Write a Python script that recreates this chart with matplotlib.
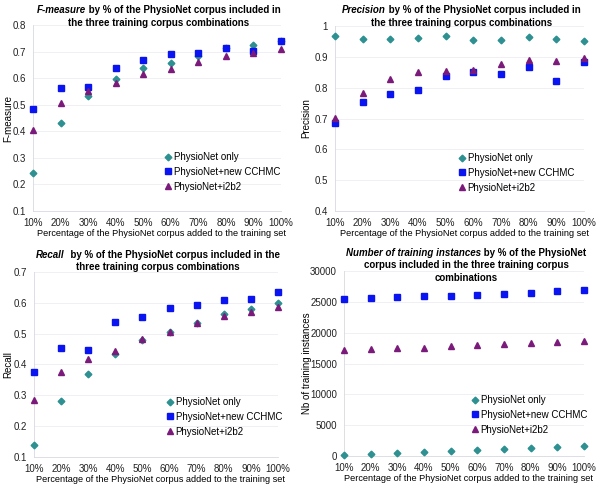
import matplotlib
matplotlib.use("Agg")
import matplotlib.pyplot as plt
import matplotlib.transforms as mtransforms
from matplotlib.ticker import FuncFormatter

pct = [10, 20, 30, 40, 50, 60, 70, 80, 90, 100]
series_names = ["PhysioNet only", "PhysioNet+new CCHMC", "PhysioNet+i2b2"]

f_only  = [0.243, 0.433, 0.533, 0.595, 0.637, 0.658, 0.685, 0.713, 0.723, 0.740]
f_cchmc = [0.484, 0.562, 0.567, 0.638, 0.667, 0.690, 0.695, 0.713, 0.703, 0.740]
f_i2b2  = [0.404, 0.505, 0.553, 0.583, 0.615, 0.636, 0.662, 0.683, 0.695, 0.710]

p_only  = [0.968, 0.957, 0.958, 0.961, 0.966, 0.954, 0.954, 0.964, 0.959, 0.951]
p_cchmc = [0.686, 0.755, 0.780, 0.792, 0.837, 0.850, 0.843, 0.866, 0.823, 0.883]
p_i2b2  = [0.703, 0.782, 0.827, 0.852, 0.853, 0.858, 0.878, 0.891, 0.888, 0.896]

r_only  = [0.138, 0.282, 0.369, 0.433, 0.478, 0.505, 0.535, 0.563, 0.580, 0.598]
r_cchmc = [0.375, 0.452, 0.447, 0.537, 0.555, 0.582, 0.592, 0.609, 0.613, 0.635]
r_i2b2  = [0.285, 0.375, 0.418, 0.445, 0.484, 0.506, 0.533, 0.557, 0.570, 0.585]

n_only  = [160, 330, 470, 640, 790, 950, 1110, 1270, 1430, 1590]
n_cchmc = [25400, 25670, 25780, 25880, 26000, 26150, 26320, 26480, 26700, 26860]
n_i2b2  = [17110, 17330, 17440, 17540, 17760, 17920, 18090, 18300, 18410, 18630]

COLORS  = ["#2E9090", "#0A14F0", "#7A1A7A"]
MARKERS = ["D", "s", "^"]
MSIZES  = [3.4, 4.2, 4.8]

FS = 7

# rect = axes in pixels (left, top, right, bottom); leg = legend top-left in pixels
panels = [
    dict(rect=(33, 25, 281, 211), it="F-measure",
         lines=[" by % of the PhysioNet corpus included in", "the three training corpus combinations"],
         title_y=10, ylabel="F-measure", ylab_x=8,
         ylim=(0.1, 0.8), yticks=[0.1, 0.2, 0.3, 0.4, 0.5, 0.6, 0.7, 0.8],
         data=[f_only, f_cchmc, f_i2b2], leg=(164, 152)),
    dict(rect=(335, 26, 584, 211), it="Precision",
         lines=[" by % of the PhysioNet corpus included in", "the three training corpus combinations"],
         title_y=10, ylabel="Precision", ylab_x=306,
         ylim=(0.4, 1.0), yticks=[0.4, 0.5, 0.6, 0.7, 0.8, 0.9, 1.0],
         data=[p_only, p_cchmc, p_i2b2], leg=(458, 153)),
    dict(rect=(34, 272, 278, 457), it="Recall",
         lines=["  by % of the PhysioNet corpus included in the", "three training corpus combinations"],
         title_y=255, ylabel="Recall", ylab_x=8,
         ylim=(0.1, 0.7), yticks=[0.1, 0.2, 0.3, 0.4, 0.5, 0.6, 0.7],
         data=[r_only, r_cchmc, r_i2b2], leg=(166, 397)),
    dict(rect=(344, 271, 584, 456), it="Number of training instances",
         lines=[" by % of the PhysioNet", "corpus included in the three training corpus", "combinations"],
         title_y=253, ylabel="Nb of training instances", ylab_x=307,
         ylim=(0, 30000), yticks=[0, 5000, 10000, 15000, 20000, 25000, 30000],
         data=[n_only, n_cchmc, n_i2b2], leg=(471, 395)),
]

W, H = 600, 490
plt.rcParams["font.family"] = ["Liberation Sans", "DejaVu Sans"]
fig = plt.figure(figsize=(W / 100, H / 100), dpi=100)

for p in panels:
    l, t, r, b = p["rect"]
    ax = fig.add_axes([l / W, 1 - b / H, (r - l) / W, (b - t) / H])
    for vals, name, c, m, ms in zip(p["data"], series_names, COLORS, MARKERS, MSIZES):
        ax.plot(pct, vals, ls="none", marker=m, color=c, ms=ms, mec=c,
                label=name, clip_on=False, zorder=3)
    ax.set_xlim(10, 100)
    ax.set_ylim(*p["ylim"])
    ax.set_xticks(pct)
    ax.xaxis.set_major_formatter(FuncFormatter(lambda v, _: f"{int(v)}%"))
    ax.set_yticks(p["yticks"])
    ax.yaxis.set_major_formatter(FuncFormatter(lambda v, _: f"{v:g}"))
    ax.tick_params(labelsize=FS, length=0, pad=5, colors="#222222")
    ax.grid(axis="y", color="#EDEDF2", lw=0.6)
    for s in ["top", "right"]:
        ax.spines[s].set_visible(False)
    for s in ["left", "bottom"]:
        ax.spines[s].set_color("#D8D8E0")
        ax.spines[s].set_linewidth(0.6)
    ax.set_ylabel(p["ylabel"], fontsize=FS)
    ax.yaxis.set_label_coords((p["ylab_x"] + 5) / W, 0.5,
                              transform=mtransforms.blended_transform_factory(fig.transFigure, ax.transAxes))
    ax.set_xlabel("Percentage of the PhysioNet corpus added to the training set",
                  fontsize=6.6, labelpad=2)
    ax.xaxis.set_label_coords(0.52, -0.095)
    lx, ly = p["leg"]
    ax.legend(loc="upper left", bbox_to_anchor=(lx / W, 1 - ly / H),
              bbox_transform=fig.transFigure, frameon=False, fontsize=FS,
              handlelength=0.8, handletextpad=0.2, borderaxespad=0, borderpad=0,
              labelspacing=0.5)

fig.canvas.draw()
renderer = fig.canvas.get_renderer()
for p in panels:
    l, t, r, b = p["rect"]
    cx = (l + r) / 2 + 2
    lines = p["lines"]
    ys = [p["title_y"] + 12.5 * i for i in range(len(lines))]
    # first line: italic-bold lead words + bold remainder, centred together
    ta = fig.text(0, 0, p["it"], fontsize=FS, fontweight="bold", fontstyle="italic",
                  ha="left", va="center")
    tb = fig.text(0, 0, lines[0], fontsize=FS, fontweight="bold", ha="left", va="center")
    wa = ta.get_window_extent(renderer).width
    wb = tb.get_window_extent(renderer).width
    x0 = cx - (wa + wb) / 2
    ta.set_position((x0 / W, 1 - ys[0] / H))
    tb.set_position(((x0 + wa) / W, 1 - ys[0] / H))
    for ln, y in zip(lines[1:], ys[1:]):
        fig.text(cx / W, 1 - y / H, ln, fontsize=FS, fontweight="bold",
                 ha="center", va="center")

fig.savefig("out.png", dpi=100)
